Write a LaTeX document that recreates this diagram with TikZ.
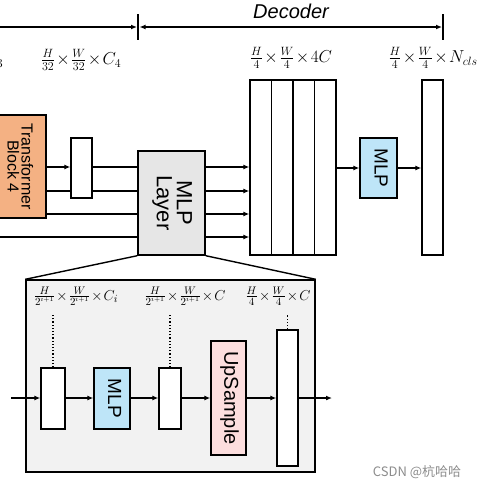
\documentclass[tikz,border=0pt]{standalone}
\usepackage{fontspec}
\setmainfont{Liberation Sans}
\newfontfamily\cjk{Noto Sans CJK SC}
\usepackage{tikz}
\usetikzlibrary{arrows.meta,positioning,calc}
\definecolor{blockorange}{RGB}{244,177,131}
\definecolor{mlpblue}{RGB}{190,229,248}
\definecolor{uppink}{RGB}{252,222,222}
\definecolor{layergray}{RGB}{230,230,230}
\definecolor{insetgray}{RGB}{242,242,242}
\newcommand{\vtext}[1]{\rotatebox[origin=c]{-90}{\begin{tabular}{@{}c@{}}#1\end{tabular}}}
\newcommand{\tx}{\mkern-2.5mu\times\mkern-2.5mu}

\begin{document}
\begin{tikzpicture}[
  x=1pt, y=-1pt,
  line width=1.4pt,
  box/.style={draw, inner sep=0pt, align=center},
  feat/.style={box, fill=white},
  dimlab/.style={inner sep=1pt, font=\fontsize{18}{20}\selectfont},
  sublab/.style={inner sep=1pt, font=\fontsize{15}{17}\selectfont},
  arr/.style={-{Latex[length=6pt,width=5pt]}},
  dotline/.style={dotted, line width=1.2pt}
]
\useasboundingbox (0,0) rectangle (482,490);

\node[font=\fontsize{20}{22}\selectfont\itshape] (dec) at (291,11) {Decoder};
\coordinate (encL) at (-20,27);
\coordinate (split) at (138,27);
\coordinate (decR) at (443,27);
\draw[arr] (encL) -- ([xshift=-1pt]split);
\draw[{Latex[length=6pt,width=5pt]}-{Latex[length=6pt,width=5pt]}] ([xshift=1.5pt]split) -- ([xshift=-1pt]decR);
\draw ([yshift=13pt]split) -- ([yshift=-13pt]split);
\draw ([yshift=13pt]decR) -- ([yshift=-13pt]decR);

\node[dimlab, anchor=east] (lab3) at (5,60) {$C_3$};
\node[dimlab] (lab4) at (81,60) {$\frac{H}{32}\tx\frac{W}{32}\tx C_4$};
\node[dimlab] (labcat) at (291,58) {$\frac{H}{4}\tx\frac{W}{4}\tx 4C$};
\node[dimlab] (labcls) at (433,58) {$\frac{H}{4}\tx\frac{W}{4}\tx N_{cls}$};

\node[box, fill=blockorange, minimum width=56pt, minimum height=103pt,
      font=\fontsize{16}{17}\selectfont] (tb) at (18,166.5) {\vtext{Transformer\\[-3pt]Block 4}};
\node[feat, minimum width=21pt, minimum height=60pt] (s1) at (81.5,168) {};
\node[box, fill=layergray, minimum width=67pt, minimum height=104pt,
      font=\fontsize{22}{23}\selectfont] (mlpl) at (171.5,203) {\vtext{MLP\\[-3pt]Layer}};
\coordinate (in4) at (-5,237);

\draw[arr] (tb.east |- 0,167) -- (s1.west |- 0,167);
\draw (s1.east |- 0,167) -- (mlpl.west |- 0,167);
\draw (tb.east |- 0,191) -- (s1.west |- 0,191);
\draw (s1.east |- 0,191) -- (mlpl.west |- 0,191);
\draw (tb.east |- 0,214) -- (mlpl.west |- 0,214);
\draw (in4) -- (mlpl.west |- in4);

\foreach \i in {1,...,4}
  \node[feat, minimum width=21.5pt, minimum height=175pt] (f\i) at ({250+21.5*(\i-0.5)},167.5) {};
\foreach \y in {167,191,214,237}
  \draw[arr] (mlpl.east |- 0,\y) -- (f1.west |- 0,\y);

\node[box, fill=mlpblue, minimum width=37pt, minimum height=60pt,
      font=\fontsize{19}{20}\selectfont] (mlp) at (378.5,168) {\vtext{MLP}};
\node[feat, minimum width=21pt, minimum height=175pt] (out) at (432.5,167.5) {};
\draw[arr] (f4.east |- mlp) -- (mlp.west);
\draw[arr] (mlp.east) -- (out.west |- mlp);

\node[box, fill=insetgray, minimum width=289pt, minimum height=192pt] (inset) at (170.5,376) {};
\draw (mlpl.south west) -- (inset.north west);
\draw (mlpl.south east) -- (inset.north east);

\node[sublab] (li1) at (76,296) {$\frac{H}{2^{i+1}}\tx\frac{W}{2^{i+1}}\tx C_i$};
\node[sublab] (li2) at (185,296) {$\frac{H}{2^{i+1}}\tx\frac{W}{2^{i+1}}\tx C$};
\node[sublab] (li3) at (278,296) {$\frac{H}{4}\tx\frac{W}{4}\tx C$};

\node[feat, minimum width=24pt, minimum height=61pt] (a1) at (53,398.5) {};
\node[box, fill=mlpblue, minimum width=36pt, minimum height=61pt,
      font=\fontsize{19}{20}\selectfont] (m2) at (112,398.5) {\vtext{MLP}};
\node[feat, minimum width=22pt, minimum height=61pt] (a2) at (170,398.5) {};
\node[box, fill=uppink, minimum width=35pt, minimum height=114pt,
      font=\fontsize{20}{21}\selectfont] (up) at (228.5,398) {\vtext{UpSample}};
\node[feat, minimum width=21pt, minimum height=136pt] (a3) at (287.5,398) {};
\coordinate (sin) at (11,398);
\coordinate (sout) at (332,398);

\draw[arr] (sin) -- (a1.west |- sin);
\draw[arr] (a1.east |- sin) -- (m2.west |- sin);
\draw[arr] (m2.east |- sin) -- (a2.west |- sin);
\draw[arr] (a2.east |- sin) -- (up.west |- sin);
\draw[arr] (up.east |- sin) -- (a3.west |- sin);
\draw[arr] (a3.east |- sin) -- (sout);

\draw[dotline] (a1.north) -- (a1.north |- 0,315);
\draw[dotline] (a2.north) -- (a2.north |- 0,315);
\draw[dotline] (a3.north) -- (a3.north |- 0,315);

\node[text=black!45, font=\cjk\fontsize{13}{15}\selectfont] (wm) at (417,472) {CSDN @杭哈哈};
\end{tikzpicture}
\end{document}
